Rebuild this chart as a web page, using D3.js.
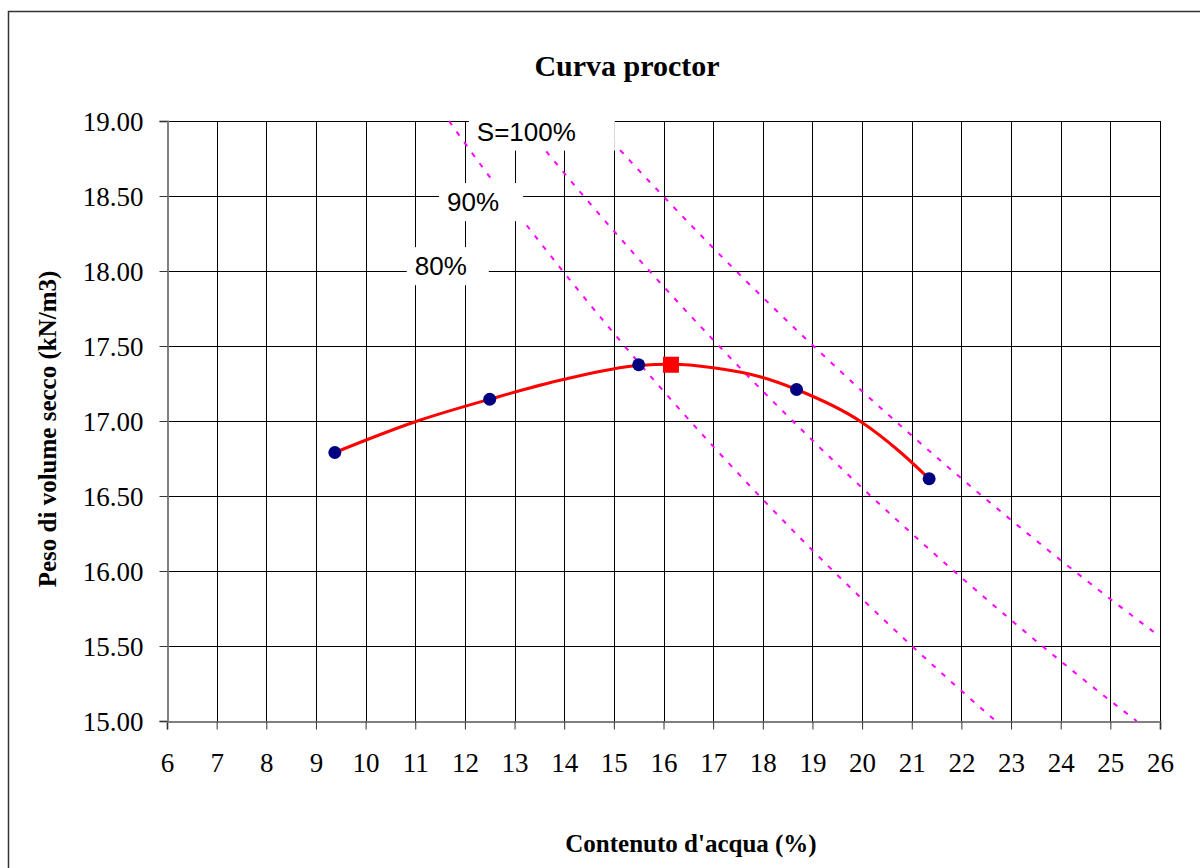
<!DOCTYPE html>
<html><head><meta charset="utf-8">
<script src="https://cdn.jsdelivr.net/npm/d3@7"></script>
<style>body{margin:0;background:#fff}svg{display:block}</style>
</head><body>
<svg id="c" width="1200" height="868"></svg>
<script>
// ---- data ----
const waterContent = [9.38, 12.5, 15.5, 18.68, 21.35];
const dryWeight = [16.79, 17.145, 17.375, 17.21, 16.615];
const optimum = {w: 16.15, g: 17.375};
// fitted curve points
const curveW = [9.38, 11, 12.5, 14, 15.5, 16.15, 17, 18, 18.68, 20, 20.76, 21.35];
const curveG = [16.79, 16.995, 17.145, 17.278, 17.37, 17.378, 17.355, 17.29, 17.21, 16.99, 16.795, 16.615];
// saturation lines (w %, gamma_d)
const sat100W = [14.6, 15, 16, 17, 18, 19, 20, 21, 22, 23, 24, 25, 26];
const sat100G = [19.0, 18.852, 18.497, 18.154, 17.824, 17.506, 17.199, 16.903, 16.617, 16.34, 16.072, 15.813, 15.562];
const sat90W = [13.14, 14, 15, 16, 17, 18, 19, 20, 21, 22, 23, 24, 25, 25.53];
const sat90G = [19.0, 18.653, 18.267, 17.897, 17.541, 17.199, 16.871, 16.554, 16.25, 15.956, 15.673, 15.399, 15.135, 15.0];
const sat80W = [11.68, 12, 13, 14, 15, 16, 17, 18, 19, 20, 21, 22, 22.69];
const sat80G = [19.0, 18.852, 18.41, 17.988, 17.585, 17.199, 16.831, 16.477, 16.138, 15.813, 15.501, 15.201, 15.0];
const xTicks = d3.range(6, 27, 1);
const yTicks = [15.0, 15.5, 16.0, 16.5, 17.0, 17.5, 18.0, 18.5, 19.0];
const satLabels = ["S=100%", "90%", "80%"];
const satLabelPos = [[12.24, 18.93], [11.64, 18.46], [10.99, 18.033]];

const svg = d3.select("#c");
const L = 167, R = 1160, T = 121, B = 721;
const x = d3.scaleLinear().domain([6, 26]).range([L, R]);
const y = d3.scaleLinear().domain([15, 19]).range([B, T]);

// outer frame
svg.append("rect").attr("x", 8.5).attr("y", 11.5).attr("width", 1300).attr("height", 1000)
  .attr("fill", "#fff").attr("stroke", "#333").attr("stroke-width", 1.5);

// gridlines
const g = svg.append("g");
g.selectAll(".vg").data(xTicks).join("line")
  .attr("x1", d => Math.round(x(d)) + 0.5).attr("x2", d => Math.round(x(d)) + 0.5)
  .attr("y1", T).attr("y2", B).attr("stroke", "#000").attr("stroke-width", 1);
g.selectAll(".hg").data(yTicks).join("line")
  .attr("y1", d => Math.round(y(d)) + 0.5).attr("y2", d => Math.round(y(d)) + 0.5)
  .attr("x1", L).attr("x2", R).attr("stroke", "#000").attr("stroke-width", 1);

// axes
const sf = "Liberation Serif, Times New Roman, serif";
const xAxis = svg.append("g").attr("transform", `translate(0,${B + 0.5})`)
  .call(d3.axisBottom(x).tickValues(xTicks).tickFormat(d3.format("d")).tickSize(8).tickPadding(21));
const yAxis = svg.append("g").attr("transform", `translate(${L + 0.5},0)`)
  .call(d3.axisLeft(y).tickValues(yTicks).tickFormat(d3.format(".2f")).tickSize(8).tickPadding(16));
xAxis.attr("font-family", sf).attr("font-size", 27);
yAxis.attr("font-family", sf).attr("font-size", 27);
xAxis.select(".domain").attr("stroke", "#808080").attr("stroke-width", 2);
yAxis.select(".domain").attr("stroke", "#808080").attr("stroke-width", 2);
xAxis.selectAll(".tick line").attr("stroke", "#333");
yAxis.selectAll(".tick line").attr("stroke", "#333");
xAxis.selectAll(".tick text").attr("fill", "#000").attr("dy", "0.8em");
yAxis.selectAll(".tick text").attr("fill", "#000").attr("dy", "0.34em");

// saturation lines
const satLine = d3.line().x(d => x(d[0])).y(d => y(d[1])).curve(d3.curveMonotoneX);
[[sat100W, sat100G], [sat90W, sat90G], [sat80W, sat80G]].forEach(([ws, gs]) => {
  svg.append("path").datum(ws.map((w, i) => [w, gs[i]]))
    .attr("d", satLine).attr("fill", "none").attr("stroke", "#ff00ff")
    .attr("stroke-width", 2).attr("stroke-dasharray", "5,8");
});

// labels with white boxes
const lf = "Liberation Sans, Arial, sans-serif";
const rightPad = [39, 24, 22];
satLabels.forEach((t, i) => {
  const [lw, lg] = satLabelPos[i];
  const tx = svg.append("text").attr("x", x(lw)).attr("y", y(lg)).attr("dy", "0.35em")
    .attr("font-family", lf).attr("font-size", 26).attr("text-anchor", "start").text(t);
  const bb = tx.node().getBBox();
  svg.insert("rect", () => tx.node())
    .attr("x", bb.x - 8).attr("y", bb.y - 4).attr("width", bb.width + 8 + rightPad[i]).attr("height", bb.height + 8)
    .attr("fill", "#fff");
});

// fitted curve
svg.append("path").datum(curveW.map((w, i) => [w, curveG[i]]))
  .attr("d", d3.line().x(d => x(d[0])).y(d => y(d[1])).curve(d3.curveMonotoneX))
  .attr("fill", "none").attr("stroke", "#ff0000").attr("stroke-width", 3);

// points
svg.selectAll(".pt").data(waterContent).join("circle")
  .attr("cx", d => x(d)).attr("cy", (d, i) => y(dryWeight[i])).attr("r", 6.5).attr("fill", "#000080");

svg.append("rect").attr("x", x(optimum.w) - 8).attr("y", y(optimum.g) - 8)
  .attr("width", 16).attr("height", 16).attr("fill", "#ff0000");

// titles
svg.append("text").attr("x", 627).attr("y", 76).attr("text-anchor", "middle")
  .attr("font-family", sf).attr("font-weight", "bold").attr("font-size", 30).text("Curva proctor");
svg.append("text").attr("x", 691).attr("y", 852).attr("text-anchor", "middle")
  .attr("font-family", sf).attr("font-weight", "bold").attr("font-size", 25).text("Contenuto d'acqua (%)");
svg.append("text").attr("transform", "translate(56,429) rotate(-90)").attr("text-anchor", "middle")
  .attr("font-family", sf).attr("font-weight", "bold").attr("font-size", 25).text("Peso di volume secco (kN/m3)");
</script>
</body></html>
